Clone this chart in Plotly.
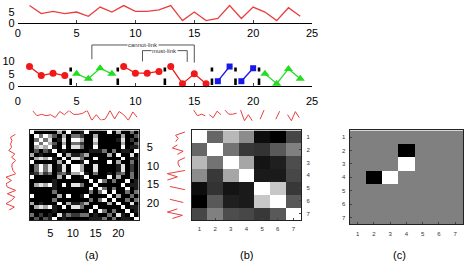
import plotly.graph_objects as go

# ---------------- data ----------------
t = list(range(1, 25))
values = [8, 4.3, 5.3, 4.3, 5, 3, 7.3, 5, 8, 5.3, 5.3, 6,
          8, 1, 5, 1, 2, 8, 2, 7.3, 5, 1, 7, 3]
seg_bounds = [0, 4, 8, 12, 16, 18, 20, 24]
seg_class = ["r", "g", "r", "r", "b", "b", "g"]

# 24x24 affinity matrix (a), grey levels 0 (black) .. 9 (white)
affinity_rows = [
    "900000609001900009060040",
    "094963060442006000006003",
    "049480180996008000018020",
    "094963060442006000006003",
    "068691090884009000009011",
    "030319010000011140401109",
    "601000906113600006090080",
    "068691090884009000009011",
    "900000609001900009060040",
    "049480180996008000018020",
    "049480180996008000018020",
    "126240341669104001034040",
    "900000609001900009060040",
    "000001000000090940400901",
    "068691090884009000009011",
    "000001000000090940400901",
    "000004000000040490900404",
    "900000609001900009060040",
    "000004000000040490900404",
    "601000906113600006090080",
    "068691090884009000009011",
    "000001000000090940400901",
    "402010814224401004081090",
    "030319010000011140401109",
]
affinity = [[int(c) for c in r] for r in affinity_rows]

# 7x7 segment similarity (b)
seg_sim = [
    [1.00, 0.40, 0.72, 0.55, 0.05, 0.00, 0.28],
    [0.40, 1.00, 0.45, 0.22, 0.20, 0.35, 0.50],
    [0.72, 0.45, 1.00, 0.65, 0.08, 0.12, 0.30],
    [0.55, 0.22, 0.65, 1.00, 0.10, 0.10, 0.28],
    [0.05, 0.20, 0.08, 0.10, 1.00, 0.78, 0.22],
    [0.00, 0.35, 0.12, 0.10, 0.78, 1.00, 0.35],
    [0.28, 0.50, 0.30, 0.28, 0.22, 0.35, 1.00],
]
# 7x7 constraint matrix (c): -1 cannot-link, +1 must-link
constraints = [
    [0, 0, 0, 0, 0, 0, 0],
    [0, 0, 0, -1, 0, 0, 0],
    [0, 0, 0, 1, 0, 0, 0],
    [0, -1, 1, 0, 0, 0, 0],
    [0, 0, 0, 0, 0, 0, 0],
    [0, 0, 0, 0, 0, 0, 0],
    [0, 0, 0, 0, 0, 0, 0],
]
seg_labels = [str(i) for i in range(1, 8)]
captions = ["(a)", "(b)", "(c)"]

# ---------------- styling ----------------
W, H = 473, 276
FONT = "Liberation Sans, Arial, sans-serif"
RED_LINE = "#e8403f"
CLS = {"r": ("#f01818", "circle", 7), "g": ("#22dd22", "triangle-up", 8),
       "b": ("#1818e8", "square", 6)}


def xd(a, b):
    return [a / W, b / W]


def yd(top, bottom):
    return [1 - bottom / H, 1 - top / H]


fig = go.Figure()

# panel 1: plain series
fig.add_trace(go.Scatter(x=t, y=values, mode="lines",
                         line=dict(color=RED_LINE, width=1.3),
                         xaxis="x", yaxis="y", showlegend=False))

# panel 2: segmented series
for k, cls in enumerate(seg_class):
    a, b = seg_bounds[k], seg_bounds[k + 1]
    col, sym, sz = CLS[cls]
    fig.add_trace(go.Scatter(x=t[a:b], y=values[a:b], mode="lines+markers",
                             line=dict(color=col, width=1.3),
                             marker=dict(color=col, symbol=sym, size=sz),
                             xaxis="x2", yaxis="y2", showlegend=False,
                             cliponaxis=False))
for bnd in seg_bounds[1:-1]:
    fig.add_trace(go.Scatter(x=[bnd + 0.5, bnd + 0.5], y=[7.6, 0.4], mode="lines",
                             line=dict(color="black", width=2.6, dash="4px,7px,7px"),
                             xaxis="x2", yaxis="y2", showlegend=False))

# constraint brackets
brackets = [("cannot-link", 6.3, 15.0, 16.8, 11.0, 9.6),
            ("must-link", 10.6, 14.4, 14.5, 10.1, 9.9)]
for name, xa, xb, ytop, ya, yb in brackets:
    fig.add_trace(go.Scatter(x=[xa, xa, xb, xb], y=[ya, ytop, ytop, yb], mode="lines",
                             line=dict(color="#555555", width=1),
                             xaxis="x2", yaxis="y2", showlegend=False))
    fig.add_annotation(x=(xa + xb) / 2, y=ytop, xref="x2", yref="y2", text=name,
                       showarrow=False, bgcolor="white", borderpad=0,
                       font=dict(size=6, color="#333333", family=FONT))

# heatmap (a)
fig.add_trace(go.Heatmap(z=affinity, x=t, y=t, zmin=0, zmax=9,
                         colorscale=[[0, "black"], [1, "white"]], showscale=False,
                         xaxis="x3", yaxis="y3"))
# heatmap (b)
fig.add_trace(go.Heatmap(z=seg_sim, x=list(range(1, 8)), y=list(range(1, 8)),
                         zmin=0, zmax=1, colorscale=[[0, "black"], [1, "white"]],
                         showscale=False, xaxis="x4", yaxis="y4"))
# heatmap (c)
fig.add_trace(go.Heatmap(z=constraints, x=list(range(1, 8)), y=list(range(1, 8)),
                         zmin=-1, zmax=1,
                         colorscale=[[0, "black"], [0.5, "#808080"], [1, "white"]],
                         showscale=False, xaxis="x5", yaxis="y5"))

# squiggles around (a)
fig.add_trace(go.Scatter(x=t, y=values, mode="lines",
                         line=dict(color=RED_LINE, width=1),
                         xaxis="x6", yaxis="y6", showlegend=False))
fig.add_trace(go.Scatter(x=values, y=t, mode="lines",
                         line=dict(color=RED_LINE, width=1),
                         xaxis="x7", yaxis="y7", showlegend=False))

# segment squiggles around (b)
for k in range(7):
    a, b = seg_bounds[k], seg_bounds[k + 1]
    seg = values[a:b]
    n = len(seg)
    span = 0.25 * (n - 1)
    pos = [k + 1 - span / 2 + span * i / (n - 1) for i in range(n)]
    fig.add_trace(go.Scatter(x=pos, y=seg, mode="lines",
                             line=dict(color=RED_LINE, width=1),
                             xaxis="x8", yaxis="y8", showlegend=False))
    fig.add_trace(go.Scatter(x=seg, y=pos, mode="lines",
                             line=dict(color=RED_LINE, width=1),
                             xaxis="x9", yaxis="y9", showlegend=False))

tickfont = dict(size=11, color="black", family=FONT)
small = dict(size=6, color="#333333", family=FONT)
hidden = dict(visible=False, showgrid=False, zeroline=False)

fig.update_layout(
    width=W, height=H, margin=dict(l=0, r=0, t=0, b=0),
    paper_bgcolor="white", plot_bgcolor="white",
    font=dict(family=FONT),
    xaxis=dict(domain=xd(15, 315), range=[0, 25], anchor="y", tickvals=[0, 5, 10, 15, 20, 25],
               showline=True, linecolor="black", linewidth=1, ticks="inside", ticklen=3,
               showgrid=False, zeroline=False, tickfont=tickfont),
    yaxis=dict(domain=yd(1.3, 23.3), range=[0, 10], anchor="x", tickvals=[0, 5, 10],
               showline=False, showgrid=False, zeroline=False, tickfont=tickfont,
               ticklabelstandoff=2),
    xaxis2=dict(domain=xd(15, 315), range=[0, 25], anchor="y2", tickvals=[0, 5, 10, 15, 20, 25],
                showline=True, linecolor="black", linewidth=1, ticks="inside", ticklen=3,
                showgrid=False, zeroline=False, tickfont=tickfont, ticklabelstandoff=5),
    yaxis2=dict(domain=yd(44.25, 88), range=[0, 17.5], anchor="x2", tickvals=[0, 5, 10],
                showline=False, showgrid=False, zeroline=False, tickfont=tickfont,
                ticklabelstandoff=2),
    xaxis3=dict(domain=xd(27.3, 138.3), range=[0.5, 24.5], anchor="y3", tickvals=[5, 10, 15, 20],
                showline=True, mirror=True, linecolor="#222222", linewidth=1, ticks="",
                showgrid=False, zeroline=False, tickfont=tickfont, ticklabelstandoff=3),
    yaxis3=dict(domain=yd(133.3, 225), range=[24.5, 0.5], anchor="x3", side="right",
                tickvals=[5, 10, 15, 20], showline=True, mirror=True, linecolor="#222222",
                linewidth=1, ticks="", showgrid=False, zeroline=False, tickfont=tickfont,
                ticklabelstandoff=5),
    xaxis4=dict(domain=xd(192.3, 304), range=[0.5, 7.5], anchor="y4", tickvals=list(range(1, 8)),
                ticktext=seg_labels, showline=True, mirror=True, linecolor="#222222",
                linewidth=1, ticks="inside", ticklen=2, showgrid=False, zeroline=False,
                tickfont=small, ticklabelstandoff=3),
    yaxis4=dict(domain=yd(133.3, 225), range=[7.5, 0.5], anchor="x4", side="right",
                tickvals=list(range(1, 8)), ticktext=seg_labels, showline=True, mirror=True,
                linecolor="#222222", linewidth=1, ticks="inside", ticklen=2, showgrid=False,
                zeroline=False, tickfont=small, ticklabelstandoff=3),
    xaxis5=dict(domain=xd(353.3, 469.3), range=[0.5, 7.5], anchor="y5", tickvals=list(range(1, 8)),
                ticktext=seg_labels, showline=True, mirror=True, linecolor="#222222",
                linewidth=1, ticks="inside", ticklen=2, showgrid=False, zeroline=False,
                tickfont=small, ticklabelstandoff=3),
    yaxis5=dict(domain=yd(133.3, 229.3), range=[7.5, 0.5], anchor="x5",
                tickvals=list(range(1, 8)), ticktext=seg_labels, showline=True, mirror=True,
                linecolor="#222222", linewidth=1, ticks="inside", ticklen=2, showgrid=False,
                zeroline=False, tickfont=small, ticklabelstandoff=2),
    xaxis6=dict(domain=xd(30, 137), range=[1, 24], anchor="y6", **hidden),
    yaxis6=dict(domain=yd(113, 123), range=[1, 8], anchor="x6", **hidden),
    xaxis7=dict(domain=xd(3, 13), range=[1, 8], anchor="y7", **hidden),
    yaxis7=dict(domain=yd(137, 215), range=[24, 1], anchor="x7", **hidden),
    xaxis8=dict(domain=xd(192.3, 304), range=[0.5, 7.5], anchor="y8", **hidden),
    yaxis8=dict(domain=yd(111, 125), range=[0, 9], anchor="x8", **hidden),
    xaxis9=dict(domain=xd(165, 188), range=[0, 9], anchor="y9", **hidden),
    yaxis9=dict(domain=yd(133.3, 225), range=[7.5, 0.5], anchor="x9", **hidden),
)

for cap, xc in zip(captions, [81.7, 248, 412.7]):
    fig.add_annotation(x=xc / W, y=1 - 269 / H, xref="paper", yref="paper", text=cap,
                       showarrow=False, font=dict(size=11, color="black", family=FONT))

fig.write_html("out.html")
